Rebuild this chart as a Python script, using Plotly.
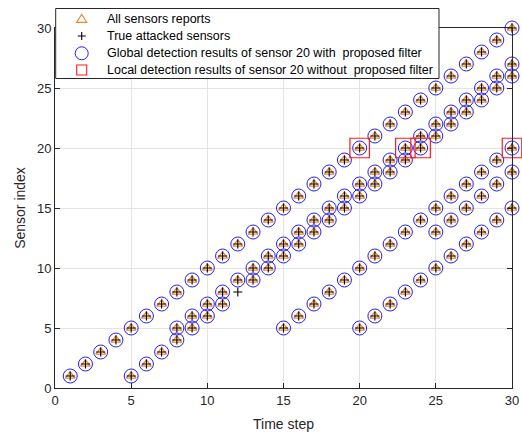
import plotly.graph_objects as go

# True attacked sensors (time step, sensor index)
attacked_t = [1, 2, 3, 4,
              5, 5, 6, 6, 7, 7,
              8, 8, 8, 9, 9, 9, 10, 10, 10, 11, 11, 11, 12, 12, 12,
              13, 13, 13, 14, 14, 14,
              15, 15, 15, 15, 16, 16, 16, 16, 17, 17, 17, 17, 18, 18, 18, 18, 19, 19, 19, 19,
              20, 20, 20, 20, 20, 21, 21, 21, 21, 21, 22, 22, 22, 22, 22,
              23, 23, 23, 23, 23, 24, 24, 24, 24, 24,
              25, 25, 25, 25, 25, 25, 26, 26, 26, 26, 26, 26, 27, 27, 27, 27, 27, 27,
              28, 28, 28, 28, 28, 28, 29, 29, 29, 29, 29, 29, 30, 30, 30, 30, 30, 30]
attacked_s = [1, 2, 3, 4,
              5, 1, 6, 2, 7, 3,
              8, 5, 4, 9, 6, 5, 10, 7, 6, 11, 8, 7, 12, 9, 8,
              13, 10, 9, 14, 11, 10,
              15, 12, 11, 5, 16, 13, 12, 6, 17, 14, 13, 7, 18, 15, 14, 8, 19, 16, 15, 9,
              20, 17, 16, 10, 5, 21, 18, 17, 11, 6, 22, 19, 18, 12, 7,
              23, 20, 19, 13, 8, 24, 21, 20, 14, 9,
              25, 22, 21, 15, 13, 10, 26, 23, 22, 16, 14, 11, 27, 24, 23, 17, 15, 12,
              28, 25, 24, 18, 16, 13, 29, 26, 25, 19, 17, 14, 30, 27, 26, 20, 18, 15]

# Attacked sensor that is missing from the reports
missed_t = [12]
missed_s = [8]

# Local detection results of sensor 20 without proposed filter
local_t = [20, 23, 24, 30]
local_s = [20, 20, 20, 20]

x_ticks = [0, 5, 10, 15, 20, 25, 30]
y_ticks = [0, 5, 10, 15, 20, 25, 30]

legend_labels = [
    "All sensors reports",
    "True attacked sensors",
    "Global detection results of sensor 20 with\u00a0 proposed filter",
    "Local detection results of sensor 20 without\u00a0 proposed filter",
]

missed = set(zip(missed_t, missed_s))
report_t = [t for t, s in zip(attacked_t, attacked_s) if (t, s) not in missed]
report_s = [s for t, s in zip(attacked_t, attacked_s) if (t, s) not in missed]

ORANGE = "#F0862A"
BLUE = "#1F1FFF"
RED = "#FF1A1A"
AX = "#262626"

fig = go.Figure()
fig.add_trace(go.Scatter(
    x=report_t, y=report_s, mode="markers", name=legend_labels[0], cliponaxis=False,
    marker=dict(symbol="triangle-up-open", size=8.5, color=ORANGE, line=dict(width=1.3, color=ORANGE))))
fig.add_trace(go.Scatter(
    x=attacked_t, y=attacked_s, mode="markers", name=legend_labels[1], cliponaxis=False,
    marker=dict(symbol="cross-thin-open", size=6.5, color="black", line=dict(width=1.1, color="black"))))
fig.add_trace(go.Scatter(
    x=report_t, y=report_s, mode="markers", name=legend_labels[2], cliponaxis=False,
    marker=dict(symbol="circle-open", size=14, color=BLUE, line=dict(width=1, color=BLUE))))
fig.add_trace(go.Scatter(
    x=local_t, y=local_s, mode="markers", name=legend_labels[3], cliponaxis=False,
    marker=dict(symbol="square-open", size=19.5, color=RED, line=dict(width=1.2, color=RED))))

axis_common = dict(
    showline=True, linecolor=AX, linewidth=1, mirror="ticks",
    ticks="inside", ticklen=5, tickcolor=AX,
    showgrid=True, gridcolor="#E3E3E3", gridwidth=1,
    zeroline=False, tickfont=dict(size=13, color=AX),
    automargin=False,
)

fig.update_xaxes(range=[0, 30], tickvals=x_ticks,
                 title=dict(text="Time step", font=dict(size=14, color=AX), standoff=12), **axis_common)
fig.update_yaxes(range=[0, 30], tickvals=y_ticks,
                 title=dict(text="Sensor index", font=dict(size=14, color=AX), standoff=8), **axis_common)

# Plot area sits at page x 55..512 and y 28..388 (body margin removed below).
PW, PH = 457.0, 360.0


def px(x):
    return (x - 55) / PW


def py(y):
    return (388 - y) / PH


# Manual legend (box, glyphs, texts)
shapes = [dict(type="rect", xref="paper", yref="paper",
               x0=px(55.7), x1=px(439), y0=py(78.5), y1=py(8.5),
               fillcolor="white", line=dict(color=AX, width=1), layer="above")]
rows = [19.3, 36.0, 53.3, 70.0]
gx = px(81.7)
common = dict(xref="paper", yref="paper", xsizemode="pixel", ysizemode="pixel",
              xanchor=gx, layer="above")
shapes.append(dict(type="path", path="M-5,-3L5,-3L0,5Z", yanchor=py(rows[0]),
                   line=dict(color=ORANGE, width=1.2), **common))
shapes.append(dict(type="path", path="M-4,0H4M0,-4V4", yanchor=py(rows[1]),
                   line=dict(color="black", width=1.1), **common))
shapes.append(dict(type="circle", x0=-6.5, x1=6.5, y0=-6.5, y1=6.5, yanchor=py(rows[2]),
                   line=dict(color=BLUE, width=1), **common))
shapes.append(dict(type="rect", x0=-5, x1=5, y0=-5, y1=5, yanchor=py(rows[3]),
                   line=dict(color=RED, width=1.1), **common))

annotations = []
for label, ry in zip(legend_labels, rows):
    annotations.append(dict(text=label, xref="paper", yref="paper", x=px(104.5), y=py(ry),
                            xanchor="left", yanchor="middle", showarrow=False,
                            font=dict(size=12.5, color="black")))

fig.update_layout(
    width=522, height=435,
    margin=dict(l=55, r=10, t=28, b=47),
    plot_bgcolor="white", paper_bgcolor="white",
    font=dict(family="Liberation Sans, Arial, sans-serif", color=AX),
    showlegend=False,
    shapes=shapes,
    annotations=annotations,
)

fig.write_html("out.html",
               config={"displayModeBar": False},
               post_script="document.body.style.margin='0';document.body.style.overflow='hidden';")
